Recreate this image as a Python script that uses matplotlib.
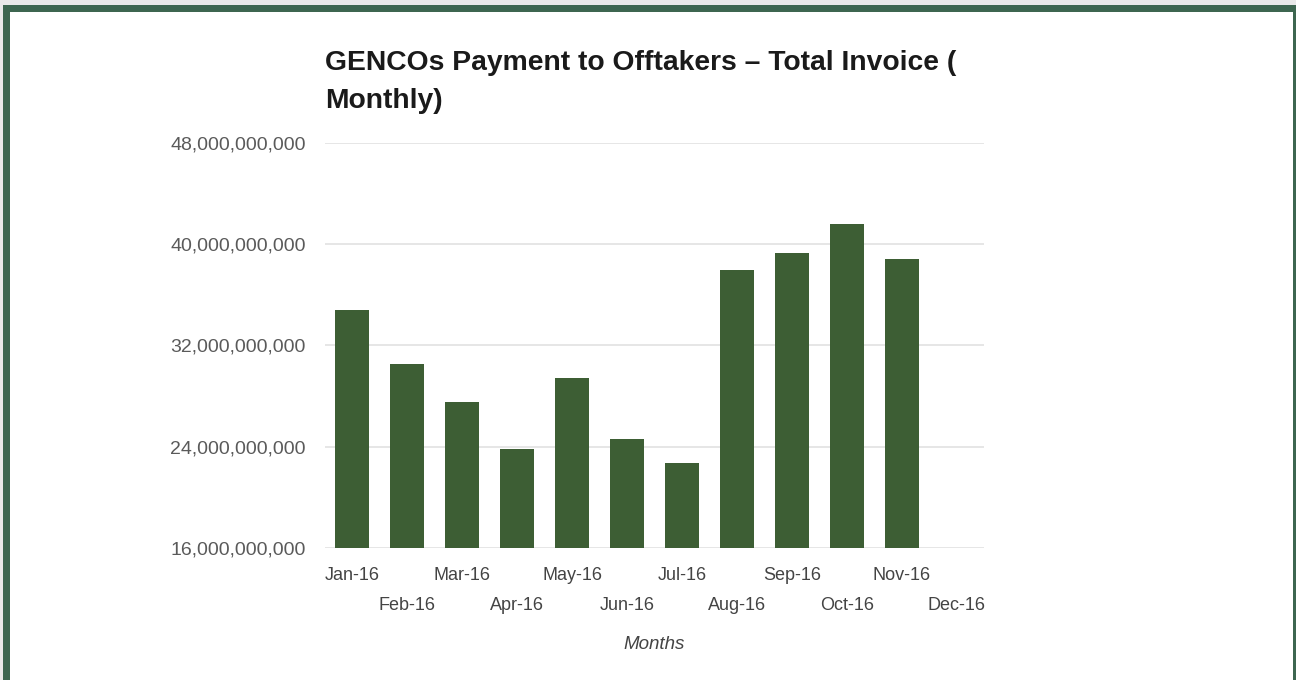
import matplotlib.pyplot as plt
from matplotlib.patches import Rectangle
from matplotlib.ticker import FuncFormatter

months = ['Jan-16', 'Feb-16', 'Mar-16', 'Apr-16', 'May-16', 'Jun-16',
          'Jul-16', 'Aug-16', 'Sep-16', 'Oct-16', 'Nov-16', 'Dec-16']
# invoice values in naira (Dec-16 has no bar)
invoice = [34.8e9, 30.5e9, 27.5e9, 23.8e9, 29.4e9, 24.6e9,
           22.7e9, 38.0e9, 39.3e9, 41.6e9, 38.8e9, None]
y_ticks = [16e9, 24e9, 32e9, 40e9, 48e9]

plt.rcParams['font.family'] = ['Liberation Sans', 'DejaVu Sans']

fig = plt.figure(figsize=(12.96, 6.8), dpi=100)
fig.patch.set_facecolor('#e9e9e9')

# white card with dark green frame
fig.patches.append(Rectangle((3 / 1296, -0.05), 1293 / 1296, 1 - 5 / 680 + 0.05,
                             transform=fig.transFigure, facecolor='#3d6650',
                             edgecolor='none', zorder=-2))
fig.patches.append(Rectangle((10 / 1296, -0.05), 1283 / 1296, 1 - 12 / 680 + 0.05,
                             transform=fig.transFigure, facecolor='white',
                             edgecolor='none', zorder=-1))

ax = fig.add_axes([325 / 1296, 1 - 548 / 680, 659 / 1296, 405 / 680])
ax.set_facecolor('none')

x = list(range(len(months)))
vals = [v if v is not None else 0 for v in invoice]
ax.bar(x, vals, width=0.62, color='#3d5e34', zorder=3)

ax.set_ylim(16e9, 48e9)
ax.set_xlim(-0.5, len(months) - 0.5)
ax.set_yticks(y_ticks)
ax.yaxis.set_major_formatter(FuncFormatter(lambda v, p: f'{v:,.0f}'))
ax.grid(axis='y', color='#e2e2e2', linewidth=1.2, zorder=0)
for s in ax.spines.values():
    s.set_visible(False)
ax.tick_params(axis='y', length=0, pad=14, labelsize=14, labelcolor='#5a5a5a')
ax.tick_params(axis='x', length=0, pad=14, labelsize=13, labelcolor='#444444')

ax.set_xticks(x)
ax.set_xticklabels([m if i % 2 == 0 else '\n' + m for i, m in enumerate(months)],
                   linespacing=1.95)

ax.set_xlabel('Months', fontsize=13.5, style='italic', color='#444444', labelpad=16)

fig.text(325 / 1296, 1 - 63 / 680, 'GENCOs Payment to Offtakers \u2013 Total Invoice (',
         fontsize=20.3, fontweight='bold', color='#1a1a1a', va='center', ha='left')
fig.text(325 / 1296, 1 - 101 / 680, 'Monthly)',
         fontsize=20.3, fontweight='bold', color='#1a1a1a', va='center', ha='left')

fig.savefig('out.png', dpi=100)
